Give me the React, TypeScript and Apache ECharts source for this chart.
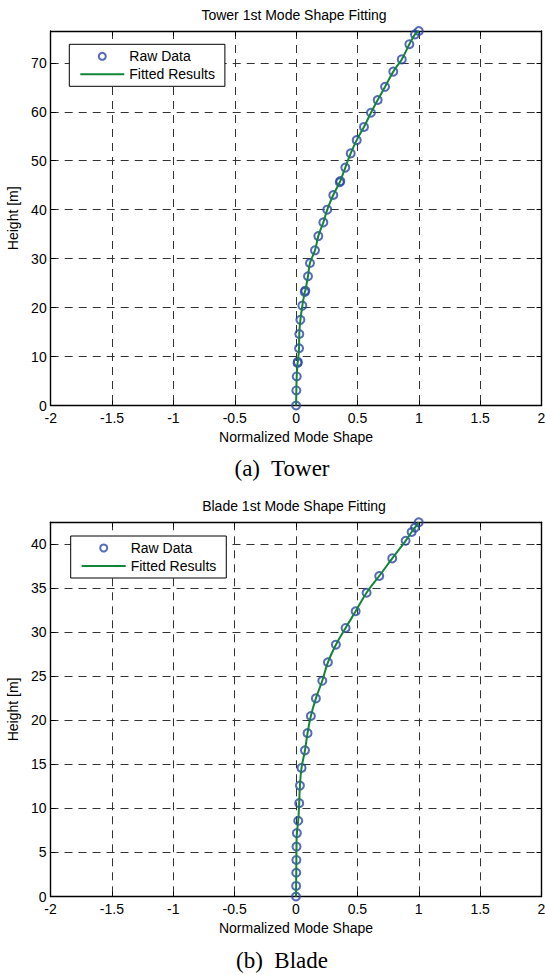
import React, { useEffect, useRef } from 'react';
import * as echarts from 'echarts';

// ---------- data ----------
const TOWER_HEIGHT = [0, 3.07, 5.93, 8.7, 8.9, 11.7, 14.6, 17.5, 20.4, 23.2, 23.45, 26.4, 29.1, 31.7, 34.6, 37.4, 40.0, 43.0, 45.6, 45.85, 48.6, 51.5, 54.2, 56.9, 59.8, 62.4, 65.1, 68.2, 70.7, 73.8, 75.8, 76.5];
const TOWER_SHAPE = [0, 0.002, 0.005, 0.012, 0.014, 0.024, 0.026, 0.035, 0.051, 0.071, 0.075, 0.097, 0.113, 0.154, 0.181, 0.222, 0.254, 0.303, 0.356, 0.36, 0.401, 0.445, 0.494, 0.553, 0.61, 0.665, 0.725, 0.792, 0.861, 0.923, 0.969, 1.0];

const BLADE_HEIGHT = [0, 1.2, 2.7, 4.15, 5.66, 7.2, 8.6, 10.6, 12.6, 14.6, 16.6, 18.55, 20.5, 22.5, 24.5, 26.6, 28.6, 30.5, 32.4, 34.5, 36.4, 38.4, 40.4, 41.4, 41.9, 42.5];
const BLADE_SHAPE = [0, 0.001, 0.002, 0.003, 0.004, 0.007, 0.018, 0.026, 0.032, 0.045, 0.073, 0.094, 0.121, 0.162, 0.214, 0.26, 0.325, 0.404, 0.486, 0.575, 0.678, 0.784, 0.893, 0.942, 0.969, 1.0];

const X_MIN = -2;
const X_MAX = 2;
const X_STEP = 0.5;
const TOWER_Y_MAX = 76.5;
const TOWER_Y_STEP = 10;
const BLADE_Y_MAX = 42.5;
const BLADE_Y_STEP = 5;

const TITLES = ['Tower 1st Mode Shape Fitting', 'Blade 1st Mode Shape Fitting'];
const CAPTIONS = ['(a)  Tower', '(b)  Blade'];
const X_NAME = 'Normalized Mode Shape';
const Y_NAME = 'Height [m]';
const RAW = 'Raw Data';
const FIT = 'Fitted Results';

// ---------- styles ----------
const FONT = "'Liberation Sans', Arial, sans-serif";
const SERIF = "'Liberation Serif', 'Times New Roman', serif";
const BLUE = '#2b45a8';
const GREEN = '#138538';

const GRIDS = [
  { left: 50.7, top: 31, width: 490.8, height: 374.5 },
  { left: 50.5, top: 522.3, width: 491, height: 374.2 },
];
const LEGEND_POS = [
  { left: 69.3, top: 44.3 },
  { left: 70.7, top: 536 },
];
const TITLE_TOP = [7.5, 499];
const CAPTION_TOP = [457.4, 948.7];

const pairs = (xs: number[], ys: number[]) => xs.map((x, i) => [x, ys[i]]);

function buildOption() {
  const axisLine = { show: true, onZero: false, lineStyle: { color: '#000', width: 1.4 } };
  const axisTick = { show: true, inside: true, length: 5, lineStyle: { color: '#000', width: 1 } };
  const split = { show: true, lineStyle: { color: '#333', width: 1, type: [8, 6] } };
  const labelStyle = { color: '#000', fontSize: 14, fontFamily: FONT };

  const xAxis: any[] = [];
  const yAxis: any[] = [];
  [0, 1].forEach((gi) => {
    const xb = { type: 'value', gridIndex: gi, min: X_MIN, max: X_MAX, interval: X_STEP, axisLine, axisTick };
    xAxis.push({
      ...xb,
      position: 'bottom',
      name: X_NAME,
      nameLocation: 'middle',
      nameGap: 24,
      nameTextStyle: { ...labelStyle },
      axisLabel: { ...labelStyle, margin: 5 },
      splitLine: split,
    });
    xAxis.push({ ...xb, position: 'top', axisLabel: { show: false }, splitLine: { show: false } });
    const ymax = gi === 0 ? TOWER_Y_MAX : BLADE_Y_MAX;
    const ystep = gi === 0 ? TOWER_Y_STEP : BLADE_Y_STEP;
    const yb = { type: 'value', gridIndex: gi, min: 0, max: ymax, interval: ystep, axisLine, axisTick };
    yAxis.push({
      ...yb,
      position: 'left',
      name: Y_NAME,
      nameLocation: 'middle',
      nameGap: 30,
      nameTextStyle: { ...labelStyle },
      axisLabel: { ...labelStyle, margin: 4, showMaxLabel: false },
      splitLine: split,
    });
    yAxis.push({ ...yb, position: 'right', axisLabel: { show: false }, splitLine: { show: false } });
  });

  const data = [pairs(TOWER_SHAPE, TOWER_HEIGHT), pairs(BLADE_SHAPE, BLADE_HEIGHT)];
  const series: any[] = [];
  [0, 1].forEach((gi) => {
    series.push({
      type: 'scatter',
      name: RAW,
      xAxisIndex: gi * 2,
      yAxisIndex: gi * 2,
      data: data[gi],
      symbol: 'circle',
      symbolSize: 8,
      itemStyle: { color: 'rgba(0,0,0,0)', borderColor: BLUE, borderWidth: 2 },
      z: 2,
    });
    series.push({
      type: 'line',
      name: FIT,
      xAxisIndex: gi * 2,
      yAxisIndex: gi * 2,
      data: data[gi],
      symbol: 'none',
      smooth: 0.4,
      lineStyle: { color: GREEN, width: 2 },
      itemStyle: { color: GREEN },
      z: 3,
    });
  });

  const legend = [0, 1].map((gi) => ({
    ...LEGEND_POS[gi],
    orient: 'vertical',
    itemWidth: 44,
    itemHeight: 7,
    itemGap: 4,
    padding: [5, 10, 5, 11],
    backgroundColor: '#fff',
    borderColor: '#000',
    borderWidth: 1,
    borderRadius: 0,
    selectedMode: false,
    textStyle: { color: '#000', fontSize: 14, fontFamily: FONT },
    data: [
      { name: RAW, icon: 'circle', itemStyle: { color: 'rgba(0,0,0,0)', borderColor: BLUE, borderWidth: 2 } },
      { name: FIT, icon: 'path://M0,0H44V2H0Z', itemStyle: { color: GREEN, borderWidth: 0 } },
    ],
  }));

  const title: any[] = [];
  [0, 1].forEach((gi) => {
    title.push({
      text: TITLES[gi],
      left: 294,
      top: TITLE_TOP[gi],
      textAlign: 'center',
      padding: 0,
      textStyle: { fontSize: 14, fontWeight: 'normal', color: '#000', fontFamily: FONT },
    });
    title.push({
      text: CAPTIONS[gi],
      left: 282,
      top: CAPTION_TOP[gi],
      textAlign: 'center',
      padding: 0,
      textStyle: { fontSize: 23, fontWeight: 'normal', color: '#000', fontFamily: SERIF },
    });
  });

  return {
    animation: false,
    backgroundColor: '#fff',
    textStyle: { fontFamily: FONT },
    title,
    legend,
    grid: GRIDS.map((g) => ({ ...g, containLabel: false, outerBoundsMode: 'none' })),
    xAxis,
    yAxis,
    series,
  };
}

export default function App() {
  const ref = useRef<HTMLDivElement>(null);
  useEffect(() => {
    document.body.style.margin = '0';
    if (!ref.current) return;
    const chart = echarts.init(ref.current, undefined, { renderer: 'svg' });
    chart.setOption(buildOption() as any);
    return () => chart.dispose();
  }, []);
  return <div ref={ref} style={{ width: 545, height: 975 }} />;
}
